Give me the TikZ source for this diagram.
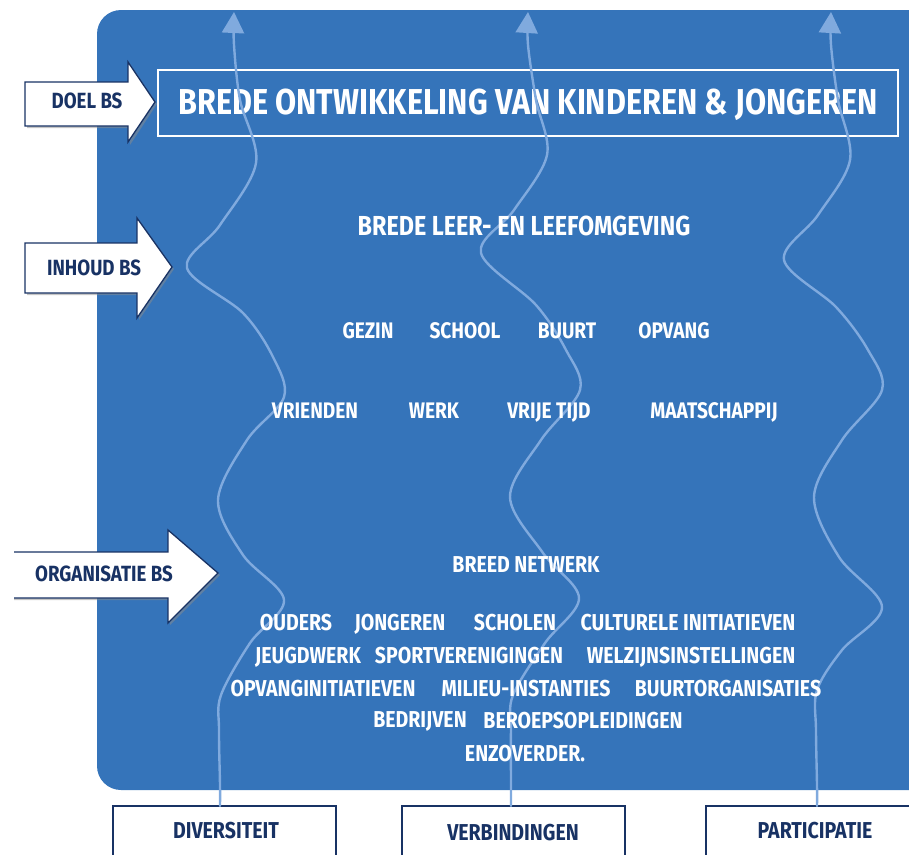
\documentclass[tikz,border=0pt]{standalone}
\usepackage{fontspec}
\setmainfont{Fira Sans}
\newfontfamily\dfont[FakeStretch=0.85]{Fira Sans}
\usetikzlibrary{arrows.meta}
\definecolor{bsblue}{RGB}{53,116,186}
\definecolor{wavec}{RGB}{128,170,222}
\definecolor{navy}{RGB}{24,50,100}
\begin{document}
\begin{tikzpicture}[x=1pt,y=-1pt,
  wline/.style={draw=wavec, line width=2.4pt, line cap=round, -{Triangle[width=22pt,length=21pt]}},
  arrowshape/.style={fill=white, draw=navy, line width=1.3pt, line join=miter},
  shadowshape/.style={fill=black!45, draw=none, opacity=0.5},
  arrowlabel/.style={text=navy, inner sep=0pt, text depth=0pt, font=\dfont\bfseries\fontsize{22}{22}\selectfont},
  titletext/.style={text=white, inner sep=0pt, text depth=0pt, font=\dfont\bfseries\fontsize{36}{36}\selectfont},
  subhead/.style={text=white, inner sep=0pt, text depth=0pt, font=\dfont\bfseries\fontsize{27.5}{27.5}\selectfont},
  item/.style={text=white, inner sep=0pt, text depth=0pt, font=\dfont\bfseries\fontsize{22.5}{22.5}\selectfont},
  netw/.style={text=white, inner sep=0pt, text depth=0pt, font=\dfont\bfseries\fontsize{23}{23}\selectfont},
  bottombox/.style={draw=navy, fill=white, line width=1.6pt},
  bottomlabel/.style={text=navy, inner sep=0pt, text depth=0pt, font=\dfont\bfseries\fontsize{23}{23}\selectfont}
]
\useasboundingbox (0,0) rectangle (909,854);
\begin{scope}
\clip (0,0) rectangle (909,854);
% blue panel
\fill[bsblue, rounded corners=24pt] (97,10) rectangle (960,790);
% title box
\draw[white, line width=2.4pt] (158,70) rectangle (898,136);
\node[titletext] (title) at (528,102) {BREDE ONTWIKKELING VAN KINDEREN \& JONGEREN};

% bottom boxes
\draw[bottombox] (113,880) -- (113,806) -- (336,806) -- (336,880);
\draw[bottombox] (402,880) -- (402,806) -- (625,806) -- (625,880);
\draw[bottombox] (706,880) -- (706,806) -- (920,806) -- (920,880);
\node[bottomlabel] (div) at (226,830) {DIVERSITEIT};
\node[bottomlabel] (verb) at (513,832) {VERBINDINGEN};
\node[bottomlabel] (part) at (815,830) {PARTICIPATIE};
\coordinate (d0) at (220,806);
\coordinate (v0) at (511,806);
\coordinate (p0) at (817,806);
\coordinate (d1) at (234,12);
\coordinate (v1) at (528,12);
\coordinate (p1) at (831,12);

% wavy lines
\draw[wline] plot[smooth, tension=0.55] coordinates {(d0) (220,785) (219,730) (221,695) (250,643) (284,600) (243,555) (218,500) (247,440) (284,397) (273,357) (243,313) (187,268) (220,225) (256,163) (240,100) (234,45) (d1)};
\draw[wline] plot[smooth, tension=0.55] coordinates {(v0) (511,785) (511,730) (513,695) (545,643) (579,598) (543,553) (510,497) (541,440) (580,390) (566,350) (536,305) (481,253) (514,210) (547,155) (536,100) (528,45) (v1)};
\draw[wline] plot[smooth, tension=0.55] coordinates {(p0) (817,785) (816,730) (817,690) (842,650) (882,607) (839,557) (814,497) (842,440) (882,390) (868,350) (836,307) (784,260) (818,215) (850,160) (838,100) (831,45) (p1)};

% left arrows
\fill[shadowshape] (27,86) -- (130,86) -- (130,64) -- (157,104) -- (130,145) -- (130,128) -- (27,128) -- cycle;
\draw[arrowshape] (25,82) -- (128,82) -- (128,62) -- (155,102) -- (128,142) -- (128,126) -- (25,126) -- cycle;
\node[arrowlabel] (doel) at (87,101) {DOEL BS};

\fill[shadowshape] (27,245) -- (139,245) -- (139,220) -- (174,269) -- (139,320) -- (139,295) -- (27,295) -- cycle;
\draw[arrowshape] (25,243) -- (137,243) -- (137,218) -- (172,267) -- (137,318) -- (137,293) -- (25,293) -- cycle;
\node[arrowlabel] (inhoud) at (94,268) {INHOUD BS};

\fill[shadowshape] (14,554) -- (170,554) -- (170,532) -- (220,575) -- (170,625) -- (170,600) -- (14,600) -- cycle;
\fill[white] (14,552) -- (168,552) -- (168,530) -- (218,573) -- (168,623) -- (168,598) -- (14,598) -- cycle;
\draw[navy, line width=1.3pt, line join=miter] (14,552) -- (168,552) -- (168,530) -- (218,573) -- (168,623) -- (168,598) -- (14,598);
\node[arrowlabel] (org) at (104,574) {ORGANISATIE BS};

% content texts
\node[subhead] (leer) at (524,226) {BREDE LEER- EN LEEFOMGEVING};
\node[item] (gezin) at (368,331) {GEZIN};
\node[item] (school) at (465,331) {SCHOOL};
\node[item] (buurt) at (567,331) {BUURT};
\node[item] (opvang) at (674,331) {OPVANG};
\node[item] (vrienden) at (315,411) {VRIENDEN};
\node[item] (werk) at (434,411) {WERK};
\node[item] (vrije) at (549,411) {VRIJE TIJD};
\node[item] (maat) at (714,411) {MAATSCHAPPIJ};

\node[netw] (breed) at (526,565) {BREED NETWERK};
\node[netw] (ouders) at (296,622) {OUDERS};
\node[netw] (jongeren) at (400,622) {JONGEREN};
\node[netw] (scholen) at (515,622) {SCHOLEN};
\node[netw] (cult) at (688,622) {CULTURELE INITIATIEVEN};
\node[netw] (jeugd) at (308,655) {JEUGDWERK};
\node[netw] (sport) at (469,655) {SPORTVERENIGINGEN};
\node[netw] (welz) at (691,655) {WELZIJNSINSTELLINGEN};
\node[netw] (opvi) at (323,688) {OPVANGINITIATIEVEN};
\node[netw] (milieu) at (526,688) {MILIEU-INSTANTIES};
\node[netw] (buurtorg) at (728,688) {BUURTORGANISATIES};
\node[netw] (bedr) at (420,720) {BEDRIJVEN};
\node[netw] (beroep) at (583,720) {BEROEPSOPLEIDINGEN};
\node[netw] (enzo) at (525,753) {ENZOVERDER.};
\end{scope}
\end{tikzpicture}
\end{document}
